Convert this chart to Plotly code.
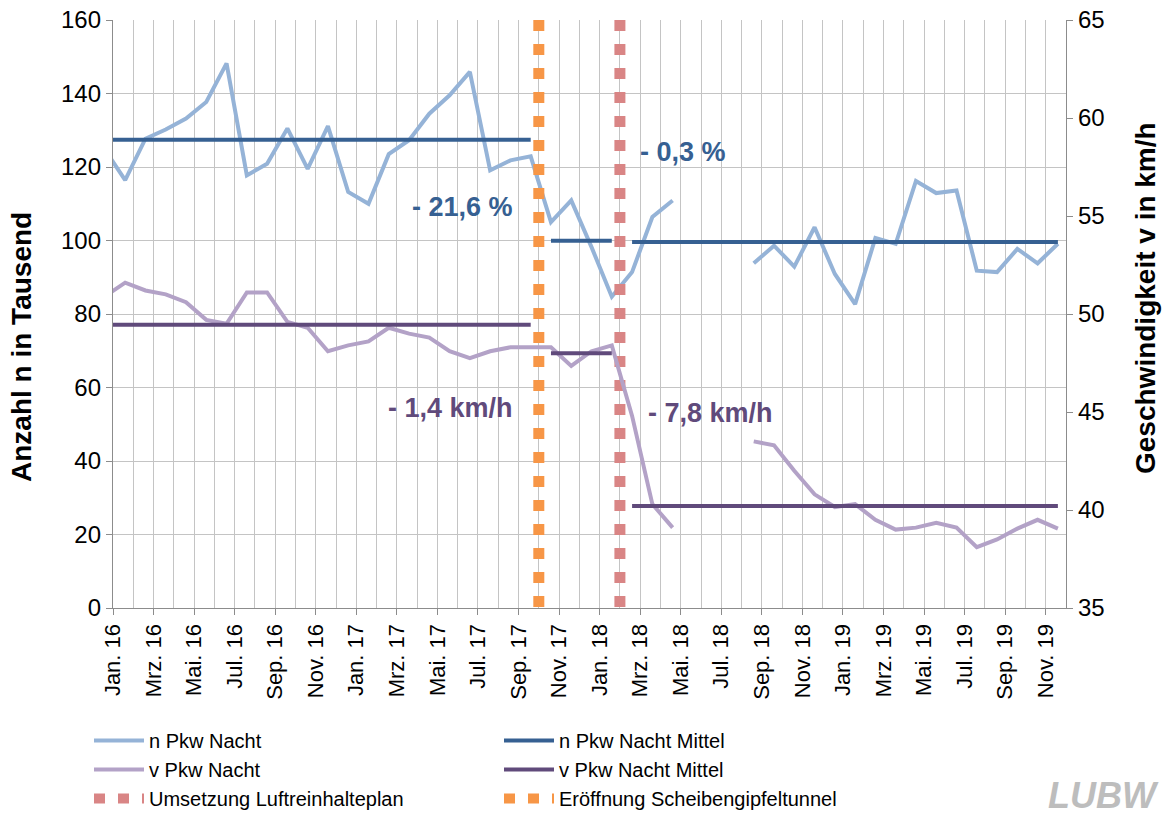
import numpy as np
import plotly.graph_objects as go

# monthly values Dez. 15 ... Nov. 19 (Dez. 15 only visible as clipped segment)
n_pkw = [124.7, 116.4, 127.7, 130.2, 133.2, 137.7, 148.2, 117.7, 120.9, 130.5, 119.5, 131.1,
         113.2, 110.0, 123.5, 127.3, 134.5, 139.5, 145.9, 119.1, 121.8, 122.9, 105.0, 110.9,
         98.2, 84.7, 91.4, 106.4, 110.9, None, None, None, 93.8, 98.6, 92.9, 103.6,
         90.9, 82.7, 100.7, 99.1, 116.2, 112.9, 113.6, 91.8, 91.4, 97.7, 93.8, 99.1]
v_pkw = [50.9, 51.6, 51.2, 51.0, 50.6, 49.7, 49.5, 51.1, 51.1, 49.6, 49.3, 48.1,
         48.4, 48.6, 49.3, 49.0, 48.8, 48.1, 47.75, 48.1, 48.3, 48.3, 48.3, 47.35,
         48.1, 48.4, 44.8, 40.3, 39.1, None, None, None, 43.5, 43.3, 42.0, 40.8,
         40.15, 40.3, 39.5, 39.0, 39.1, 39.35, 39.1, 38.1, 38.5, 39.05, 39.5, 39.05]

# mean periods as (first, last) month index into the series above
periods = [(0, 21), (22, 25), (26, 47)]
n_mean = [127.4, 99.9, 99.6]
v_mean = [49.45, 48.0, 40.2]

tick_labels = ["Jan. 16", "Mrz. 16", "Mai. 16", "Jul. 16", "Sep. 16", "Nov. 16",
               "Jan. 17", "Mrz. 17", "Mai. 17", "Jul. 17", "Sep. 17", "Nov. 17",
               "Jan. 18", "Mrz. 18", "Mai. 18", "Jul. 18", "Sep. 18", "Nov. 18",
               "Jan. 19", "Mrz. 19", "Mai. 19", "Jul. 19", "Sep. 19", "Nov. 19"]

tunnel_month = 21   # Okt. 17
lrp_month = 25      # Feb. 18

# month axis: 0 = 1. Jan 2016, values sit mid-month
x_pos = np.arange(len(n_pkw)) - 1 + 0.6

FONT = "Liberation Sans, Arial, sans-serif"
C_N = "#95B3D7"
C_NM = "#366092"
C_V = "#B3A2C7"
C_VM = "#604A7B"
C_RED = "#D98585"
C_ORANGE = "#F79646"
GRID = "#C4C4C4"
AXIS = "#8C8C8C"

W, H = 1164, 816
L, T, PW, PH = 113, 20, 953, 588


def px_x(px):
    return (px - L) / PW


def px_y(py):
    return (T + PH - py) / PH


fig = go.Figure()

fig.add_trace(go.Scatter(x=x_pos, y=n_pkw, mode="lines", name="n Pkw Nacht",
                         line=dict(color=C_N, width=4), connectgaps=False))
for i, (a, b) in enumerate(periods):
    fig.add_trace(go.Scatter(x=[x_pos[a], x_pos[b]], y=[n_mean[i]] * 2, mode="lines",
                             name="n Pkw Nacht Mittel", legendgroup="nm", showlegend=(i == 0),
                             line=dict(color=C_NM, width=4)))
fig.add_trace(go.Scatter(x=x_pos, y=v_pkw, mode="lines", name="v Pkw Nacht", yaxis="y2",
                         line=dict(color=C_V, width=4), connectgaps=False))
for i, (a, b) in enumerate(periods):
    fig.add_trace(go.Scatter(x=[x_pos[a], x_pos[b]], y=[v_mean[i]] * 2, mode="lines", yaxis="y2",
                             name="v Pkw Nacht Mittel", legendgroup="vm", showlegend=(i == 0),
                             line=dict(color=C_VM, width=4)))

fig.add_trace(go.Scatter(x=[lrp_month, lrp_month], y=[160, 0], mode="lines",
                         name="Umsetzung Luftreinhalteplan",
                         line=dict(color=C_RED, width=11, dash="11px,13px")))
fig.add_trace(go.Scatter(x=[tunnel_month, tunnel_month], y=[160, 0], mode="lines",
                         name="Eröffnung Scheibengipfeltunnel",
                         line=dict(color=C_ORANGE, width=11, dash="11px,13px")))

# change labels
labels = [
    ("- 21,6 %", 19.85, 109.0, "right", C_NM),
    ("- 0,3 %", 25.9, 124.0, "left", C_NM),
    ("- 1,4 km/h", 19.85, 54.4, "right", C_VM),
    ("- 7,8 km/h", 26.3, 53.1, "left", C_VM),
]
for text, x, y, anchor, color in labels:
    fig.add_annotation(x=x, y=y, xref="x", yref="y", text=f"<b>{text}</b>", showarrow=False,
                       xanchor=anchor, font=dict(size=27, color=color, family=FONT))

# axis titles (placed like the original, not centred on the axes)
fig.add_annotation(x=px_x(21), y=px_y(347), xref="paper", yref="paper", textangle=-90,
                   xanchor="center", yanchor="middle",
                   text="<b>Anzahl n in Tausend</b>", showarrow=False,
                   font=dict(size=28, color="black", family=FONT))
fig.add_annotation(x=px_x(1145), y=px_y(298), xref="paper", yref="paper", textangle=-90,
                   xanchor="center", yanchor="middle",
                   text="<b>Geschwindigkeit v in km/h</b>", showarrow=False,
                   font=dict(size=28, color="black", family=FONT))

fig.add_annotation(x=px_x(1103), y=px_y(795), xref="paper", yref="paper",
                   xanchor="center", yanchor="middle",
                   text="<b><i>LUBW</i></b>", showarrow=False,
                   font=dict(size=36, color="#BDBDBD", family=FONT))

fig.update_layout(
    width=W, height=H,
    margin=dict(l=L, r=W - L - PW, t=T, b=H - T - PH),
    paper_bgcolor="white", plot_bgcolor="white",
    font=dict(family=FONT, color="black"),
    xaxis=dict(
        range=[0, 47], tickmode="array", tickvals=list(range(0, 47, 2)), ticktext=tick_labels,
        tickangle=-90, tickfont=dict(size=22), ticks="outside", ticklen=6, tickcolor=AXIS,
        showgrid=True, gridcolor=GRID, gridwidth=1.3, automargin=False,
        minor=dict(tickmode="linear", tick0=0, dtick=1, showgrid=True, gridcolor=GRID, gridwidth=1.3),
        showline=True, linecolor=AXIS, linewidth=1.3, zeroline=False,
    ),
    yaxis=dict(
        range=[0, 160], dtick=20, tickfont=dict(size=24), ticks="outside", ticklen=6, tickcolor=AXIS,
        showgrid=True, gridcolor=GRID, gridwidth=1.3, showline=True, linecolor=AXIS, linewidth=1.3,
        zeroline=False, automargin=False, ticklabeloverflow="allow",
    ),
    yaxis2=dict(
        range=[35, 65], dtick=5, overlaying="y", side="right", tickfont=dict(size=24),
        ticks="outside", ticklen=6, tickcolor=AXIS, showgrid=False, showline=True,
        linecolor=AXIS, linewidth=1.3, zeroline=False, automargin=False, ticklabeloverflow="allow",
    ),
    legend=dict(
        orientation="h", traceorder="normal", tracegroupgap=0,
        xref="container", x=89 / W, xanchor="left",
        yref="container", y=1 - 721 / H, yanchor="top",
        entrywidth=345, entrywidthmode="pixels", itemwidth=50,
        font=dict(size=20, family=FONT), bgcolor="rgba(0,0,0,0)",
    ),
)

# drop the default 8px page margin so the figure fills the window exactly
fig.write_html("out.html", config={"displayModeBar": False},
               post_script="document.body.style.margin = '0';")
